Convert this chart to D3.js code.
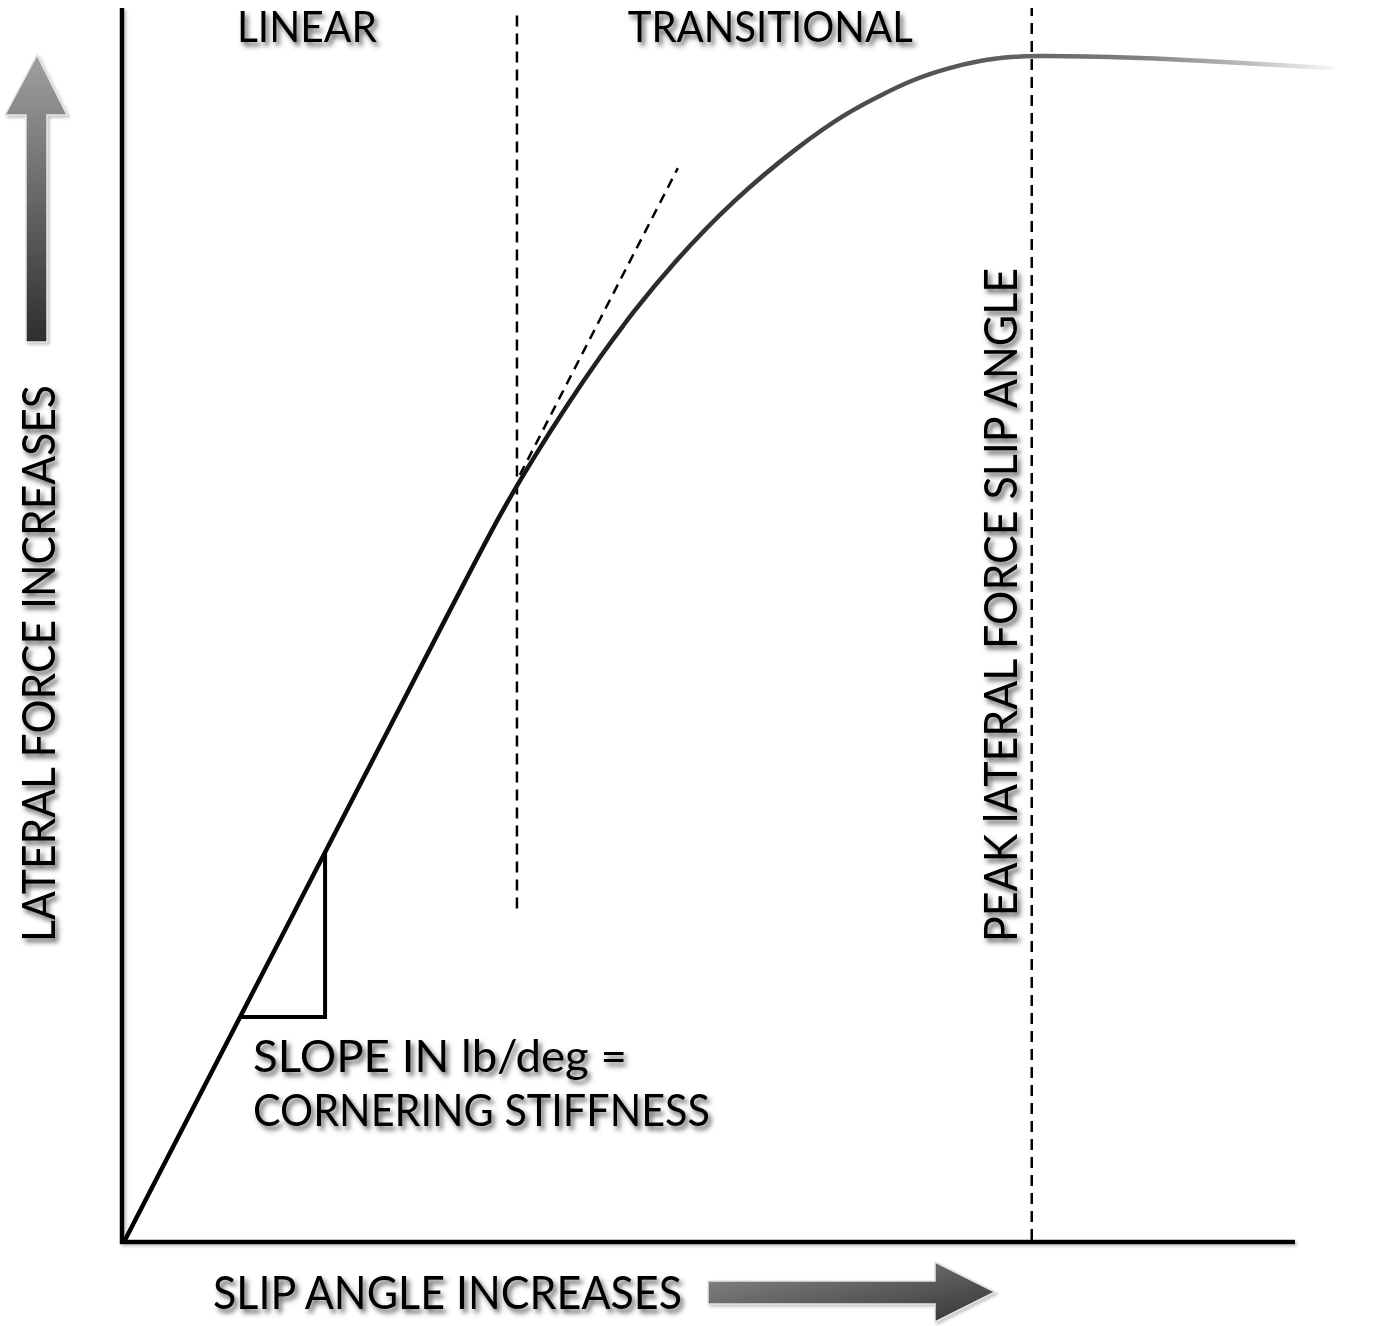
<!DOCTYPE html>
<html><head><meta charset="utf-8">
<script src="https://cdn.jsdelivr.net/npm/d3@7"></script>
<style>body{margin:0;background:#fff}svg{display:block}</style>
</head><body><div id="chart"></div>
<script>
// ---- data (slip angle and lateral force in arbitrary units) ----
const slipAngle    = [0, 3.0, 5.9, 6.41, 6.97, 7.56, 8.12, 8.68, 9.37, 10.39, 11.54, 12.34, 12.91, 13.47, 14.05, 14.62, 15.18, 15.52, 17.23, 18.94, 20.65];
const lateralForce = [0, 276, 543, 589, 634, 678, 717, 753, 793, 844, 889, 915, 929, 942, 951, 957.5, 960.5, 961.5, 960, 956, 951];
const tangentSlip  = [6.75, 9.45];
const tangentForce = [621, 870];
const triangleSlip  = [1.97, 3.42, 3.42];
const triangleForce = [181, 181, 315];
const boundarySlip  = [6.7, 15.5];
const boundaryForceLow  = [269, 0];
const boundaryForceHigh = [994, 1000];
const regionLabels = ["LINEAR", "TRANSITIONAL"];
const regionSlip   = [3.11, 11.03];
const xAxisTitle = "SLIP ANGLE INCREASES";
const yAxisTitle = "LATERAL FORCE INCREASES";
const peakTitle  = "PEAK lATERAL FORCE SLIP ANGLE";
const slopeNote  = ["SLOPE IN lb/deg =", "CORNERING STIFFNESS"];

const W = 1383, H = 1326;
const x = d3.scaleLinear().domain([0, 20]).range([125, 1295]);
const y = d3.scaleLinear().domain([0, 1000]).range([1240, 8]);

const svg = d3.select("#chart").append("svg").attr("width", W).attr("height", H);
const defs = svg.append("defs");

const sh = defs.append("filter").attr("id","tshadow").attr("x","-10%").attr("y","-30%").attr("width","130%").attr("height","180%");
sh.append("feDropShadow").attr("dx",3).attr("dy",4).attr("stdDeviation",2.6).attr("flood-color","#444").attr("flood-opacity",0.85);
const sh2 = defs.append("filter").attr("id","lshadow").attr("x","-20%").attr("y","-20%").attr("width","140%").attr("height","140%");
sh2.append("feDropShadow").attr("dx",2).attr("dy",2).attr("stdDeviation",1.5).attr("flood-color","#888").attr("flood-opacity",0.5);

const cg = defs.append("linearGradient").attr("id","curveGrad").attr("gradientUnits","userSpaceOnUse")
  .attr("x1", x(0)).attr("x2", x(20.65)).attr("y1",0).attr("y2",0);
[[0,"#000"],[0.31,"#111"],[0.45,"#2e2e2e"],[0.6,"#4a4a4a"],[0.74,"#626262"],[0.84,"#808080"],[0.93,"#bdbdbd"],[1,"#f7f7f7"]]
  .forEach(([o,c]) => cg.append("stop").attr("offset",o).attr("stop-color",c));

const ug = defs.append("linearGradient").attr("id","upGrad").attr("x1",0).attr("x2",0).attr("y1",0).attr("y2",1);
ug.append("stop").attr("offset",0).attr("stop-color","#a0a0a0");
ug.append("stop").attr("offset",1).attr("stop-color","#2e2e2e");
const rg = defs.append("linearGradient").attr("id","rightGrad").attr("x1",0).attr("x2",1).attr("y1",0).attr("y2",1);
rg.append("stop").attr("offset",0).attr("stop-color","#8c8c8c");
rg.append("stop").attr("offset",1).attr("stop-color","#333");

// ---- axes ----
const axG = svg.append("g").attr("filter","url(#lshadow)");
axG.append("g").attr("transform",`translate(0,${y(0)+2})`)
  .call(d3.axisBottom(x).tickValues([]).tickSizeOuter(0))
  .call(g => g.select(".domain").attr("d", `M${x(0)-5},0H${x(20)}`).attr("stroke","#000").attr("stroke-width",4.5));
axG.append("g").attr("transform",`translate(${x(0)-3},0)`)
  .call(d3.axisLeft(y).tickValues([]).tickSizeOuter(0))
  .call(g => g.select(".domain").attr("d", `M0,${y(0)+4}V${y(1000)}`).attr("stroke","#000").attr("stroke-width",4.5));

// ---- dashed boundaries ----
svg.append("g").selectAll("line").data(boundarySlip).join("line")
  .attr("x1", d => x(d)).attr("x2", d => x(d))
  .attr("y1", (d,i) => y(boundaryForceLow[i])).attr("y2", (d,i) => y(boundaryForceHigh[i]))
  .attr("stroke","#000").attr("stroke-width",2.5).attr("stroke-dasharray","11,7");

// ---- tangent ----
svg.append("line")
  .attr("x1", x(tangentSlip[0])).attr("y1", y(tangentForce[0]))
  .attr("x2", x(tangentSlip[1])).attr("y2", y(tangentForce[1]))
  .attr("stroke","#000").attr("stroke-width",2.5).attr("stroke-dasharray","10,7");

// ---- curve ----
const pts = slipAngle.map((s,i) => [s, lateralForce[i]]);
svg.append("path").datum(pts)
  .attr("d", d3.line().x(d => x(d[0])).y(d => y(d[1])).curve(d3.curveBasis))
  .attr("fill","none").attr("stroke","url(#curveGrad)").attr("stroke-width",4.5).attr("stroke-linecap","round");

// ---- slope triangle ----
const tri = triangleSlip.map((s,i) => [x(s), y(triangleForce[i])]);
svg.append("path").attr("d", `M${tri[0]}L${tri[1]}L${tri[2]}`)
  .attr("fill","none").attr("stroke","#000").attr("stroke-width",4).attr("stroke-linejoin","miter");

// ---- arrows ----
svg.append("path").attr("d","M37,55 L67,115 L47,115 L47,342 L26,342 L26,115 L5,115 Z")
  .attr("fill","url(#upGrad)").attr("stroke","#e6e6e6").attr("stroke-width",1.5).attr("filter","url(#lshadow)");
svg.append("path").attr("d","M708,1281 L935,1281 L935,1262 L995,1292 L935,1322 L935,1304 L708,1304 Z")
  .attr("fill","url(#rightGrad)").attr("stroke","#e6e6e6").attr("stroke-width",1.5).attr("filter","url(#lshadow)");

// ---- text ----
const font = "Lato, 'Noto Sans', sans-serif";
const tg = svg.append("g").attr("filter","url(#tshadow)").attr("font-family",font).attr("fill","#000");
const rl = [[237,377],[627,912]];
tg.selectAll("text.region").data(regionLabels).join("text").attr("class","region")
  .attr("x",(d,i)=> x(regionSlip[i])).attr("y",42).attr("text-anchor","middle")
  .attr("font-size",42).attr("textLength",(d,i)=>rl[i][1]-rl[i][0]).attr("lengthAdjust","spacingAndGlyphs").text(d=>d);

tg.append("text").attr("x",213).attr("y",1309).attr("font-size",47)
  .attr("textLength",469).attr("lengthAdjust","spacingAndGlyphs").text(xAxisTitle);
tg.append("text").attr("transform","translate(55,942) rotate(-90)").attr("font-size",47)
  .attr("textLength",557).attr("lengthAdjust","spacingAndGlyphs").text(yAxisTitle);
tg.append("text").attr("transform","translate(1017,942) rotate(-90)").attr("font-size",46)
  .attr("textLength",674).attr("lengthAdjust","spacingAndGlyphs").text(peakTitle);
tg.append("text").attr("x",253).attr("y",1072).attr("font-size",45)
  .attr("textLength",374).attr("lengthAdjust","spacingAndGlyphs").text(slopeNote[0]);
tg.append("text").attr("x",253).attr("y",1126).attr("font-size",45)
  .attr("textLength",457).attr("lengthAdjust","spacingAndGlyphs").text(slopeNote[1]);
</script>
</body></html>
